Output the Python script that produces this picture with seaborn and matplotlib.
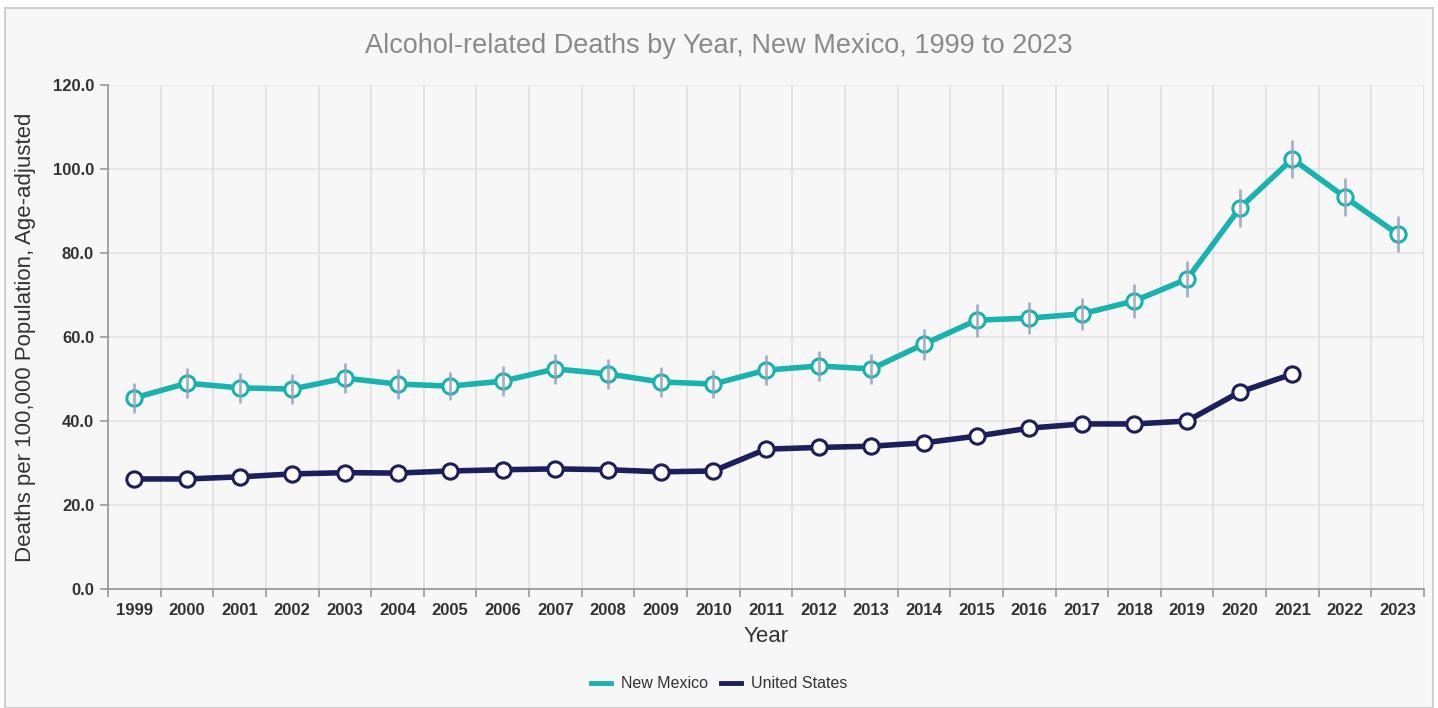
import matplotlib
matplotlib.use("Agg")
import matplotlib.pyplot as plt
import seaborn as sns
import pandas as pd
import numpy as np
from matplotlib.patches import Rectangle
from matplotlib.lines import Line2D

years = [str(y) for y in range(1999, 2024)]
nm_rate = [45.5, 49.0, 47.9, 47.6, 50.2, 48.8, 48.3, 49.5, 52.4, 51.2, 49.3, 48.8,
           52.1, 53.1, 52.4, 58.3, 64.0, 64.5, 65.5, 68.6, 73.8, 90.7, 102.4, 93.3, 84.5]
nm_ci_half = [3.5, 3.6, 3.5, 3.5, 3.5, 3.5, 3.4, 3.5, 3.6, 3.5, 3.5, 3.4,
              3.5, 3.5, 3.5, 3.7, 3.9, 3.9, 3.9, 4.0, 4.2, 4.5, 4.6, 4.5, 4.3]
us_years = years[:23]
us_rate = [26.2, 26.2, 26.7, 27.4, 27.7, 27.6, 28.1, 28.4, 28.6, 28.4, 27.9, 28.1,
           33.3, 33.7, 34.0, 34.8, 36.4, 38.3, 39.3, 39.3, 40.0, 46.9, 51.2]

series_names = ["New Mexico", "United States"]
series_colors = {"New Mexico": "#19b2ae", "United States": "#1c1f5c"}

df = pd.concat([
    pd.DataFrame({"Year": years, "Rate": nm_rate, "Area": "New Mexico"}),
    pd.DataFrame({"Year": us_years, "Rate": us_rate, "Area": "United States"}),
])
df["pos"] = df["Year"].map({y: i for i, y in enumerate(years)})

plt.rcParams["font.family"] = ["Liberation Sans", "DejaVu Sans"]

bg = "#f7f7f7"
fig = plt.figure(figsize=(14.38, 7.08), dpi=100, facecolor="white")
fig.patches.append(Rectangle((5 / 1438, 0), (1433 - 5) / 1438, (708 - 8) / 708,
                             transform=fig.transFigure, facecolor=bg,
                             edgecolor="#cfcfcf", linewidth=1.5, zorder=-10))
ax = fig.add_axes([108 / 1438, (708 - 589) / 708, (1424 - 108) / 1438, (589 - 85) / 708])
ax.set_facecolor(bg)

# grid
for v in np.arange(0, 121, 20):
    ax.axhline(v, color="#e4e4e4", lw=1.2, zorder=0)
for b in np.arange(-0.5, 25, 1):
    ax.axvline(b, color="#e0e0e0", lw=1.2, zorder=0)

sns.lineplot(data=df, x="pos", y="Rate", hue="Area", hue_order=series_names,
             palette=series_colors, linewidth=4, marker="o", markersize=11,
             markerfacecolor="white", markeredgewidth=2.2, legend=False, ax=ax, zorder=3)
for line in ax.get_lines():
    line.set_markeredgecolor(line.get_color())

# confidence intervals for New Mexico
nm_pos = np.arange(len(years))
ax.vlines(nm_pos, np.array(nm_rate) - np.array(nm_ci_half), np.array(nm_rate) + np.array(nm_ci_half),
          color="#9a9cbd", lw=2, alpha=0.8, zorder=4)

ax.set_xlim(-0.5, 24.5)
ax.set_ylim(0, 120)
ax.set_xticks(nm_pos)
ax.set_xticklabels(years)
ax.set_xticks(np.arange(-0.5, 25, 1), minor=True)
ax.set_yticks(np.arange(0, 121, 20))
ax.set_yticklabels([f"{v:.1f}" for v in np.arange(0, 121, 20)])
ax.tick_params(axis="x", which="major", length=0, pad=10, labelsize=12, labelcolor="#333333")
ax.tick_params(axis="x", which="minor", length=6, color="#999999", width=1.2)
ax.tick_params(axis="y", length=6, color="#999999", width=1.2, labelsize=12, labelcolor="#333333", pad=4)
for lab in ax.get_xticklabels() + ax.get_yticklabels():
    lab.set_fontweight("bold")

for s in ["top", "right"]:
    ax.spines[s].set_visible(False)
for s in ["left", "bottom"]:
    ax.spines[s].set_color("#9a9a9a")
    ax.spines[s].set_linewidth(1.3)

ax.set_xlabel("Year", fontsize=16, color="#333333", labelpad=6)
ax.set_ylabel("Deaths per 100,000 Population, Age-adjusted", fontsize=16, color="#333333", labelpad=12)

fig.text(0.5, 1 - 46 / 708, "Alcohol-related Deaths by Year, New Mexico, 1999 to 2023",
         ha="center", va="center", fontsize=19.5, color="#8a8a8a")

handles = [Line2D([0], [0], color=series_colors[n], lw=3.5) for n in series_names]
fig.legend(handles, series_names, loc="center", bbox_to_anchor=(0.5, 1 - 684 / 708),
           ncol=2, frameon=False, fontsize=11.5, handlelength=1.3, columnspacing=0.8,
           handletextpad=0.6, labelcolor="#333333")

fig.savefig("out.png", dpi=100, facecolor="white")
